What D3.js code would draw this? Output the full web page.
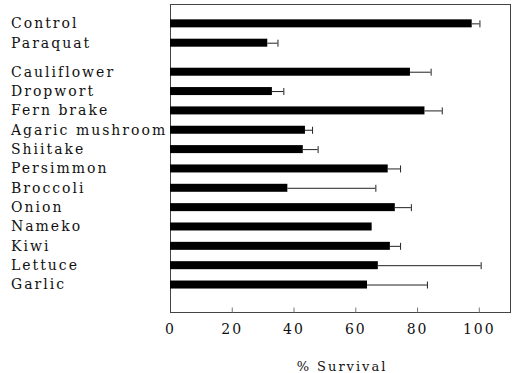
<!DOCTYPE html>
<html>
<head>
<meta charset="utf-8">
<script src="https://cdn.jsdelivr.net/npm/d3@7"></script>
<style>
  html, body { margin: 0; padding: 0; background: #fff; }
  svg text { font-family: "DejaVu Serif", serif; fill: #111; }
</style>
</head>
<body>
<svg id="chart" width="514" height="373"></svg>
<script>
// Treatments, top to bottom; the first two are the reference group
const controls = ["Control", "Paraquat"];
const extracts = ["Cauliflower", "Dropwort", "Fern brake", "Agaric mushroom", "Shiitake",
  "Persimmon", "Broccoli", "Onion", "Nameko", "Kiwi", "Lettuce", "Garlic"];
const categories = controls.concat(extracts);

// Mean % survival and the upper error (SD) for each treatment
const survival = [97.7, 31.5, 77.7, 33.0, 82.4, 43.7, 43.0, 70.5, 38.0, 72.8, 65.3, 71.2, 67.3, 63.8];
const errors   = [2.5, 3.3, 6.7, 3.7, 5.6, 2.3, 4.8, 4.0, 28.5, 5.2, 0, 3.3, 33.3, 19.4];

const xTicks = [0, 20, 40, 60, 80, 100];
const xTitle = "% Survival";

const svg = d3.select("#chart");
const plotLeft = 170, plotRight = 510, plotTop = 4, plotBottom = 312;

const x = d3.scaleLinear().domain([0, 110.1]).range([plotLeft, plotRight]);
// Row positions: the extract group sits half a row below the controls
const rowIndex = categories.map((c, i) => i < controls.length ? i : i + 0.5);
const y = d3.scaleLinear().domain([-1, 14.92]).range([plotTop, plotBottom]);
const barH = 8;

// Frame
svg.append("rect")
  .attr("x", plotLeft + 0.5).attr("y", plotTop + 0.5)
  .attr("width", plotRight - plotLeft).attr("height", plotBottom - plotTop)
  .attr("fill", "none").attr("stroke", "#444").attr("stroke-width", 1);

// Bottom axis: short inward ticks and labels
const xAxis = d3.axisBottom(x).tickValues(xTicks).tickSize(-5).tickPadding(12);
const gx = svg.append("g").attr("transform", `translate(0,${plotBottom + 0.5})`).call(xAxis);
gx.select(".domain").remove();
gx.selectAll(".tick line").attr("stroke", "#777");
gx.selectAll(".tick").filter(d => d === 0).select("line").remove();
gx.selectAll(".tick text")
  .style("font-family", "'DejaVu Serif', serif")
  .attr("font-size", 14).attr("fill", "#111").attr("dy", "0.71em")
  .attr("letter-spacing", 2);

svg.append("text")
  .attr("x", (plotLeft + plotRight) / 2 + 2).attr("y", 371)
  .attr("text-anchor", "middle").attr("font-size", 13).attr("letter-spacing", 2)
  .text(xTitle);

// Bars
const rows = svg.append("g");
categories.forEach((c, i) => {
  const cy = y(rowIndex[i]);
  rows.append("rect")
    .attr("x", x(0)).attr("y", cy - barH / 2)
    .attr("width", x(survival[i]) - x(0)).attr("height", barH)
    .attr("fill", "#000");
  if (errors[i] > 0) {
    const x1 = x(survival[i]), x2 = x(survival[i] + errors[i]);
    rows.append("line")
      .attr("x1", x1).attr("x2", x2).attr("y1", cy + 0.5).attr("y2", cy + 0.5)
      .attr("stroke", "#222").attr("stroke-width", 1);
    rows.append("line")
      .attr("x1", x2 + 0.5).attr("x2", x2 + 0.5).attr("y1", cy - 3).attr("y2", cy + 4)
      .attr("stroke", "#222").attr("stroke-width", 1);
  }
  rows.append("text")
    .attr("x", 11).attr("y", cy).attr("dy", "0.35em")
    .attr("font-size", 14).attr("letter-spacing", 2)
    .text(c);
});
</script>
</body>
</html>
